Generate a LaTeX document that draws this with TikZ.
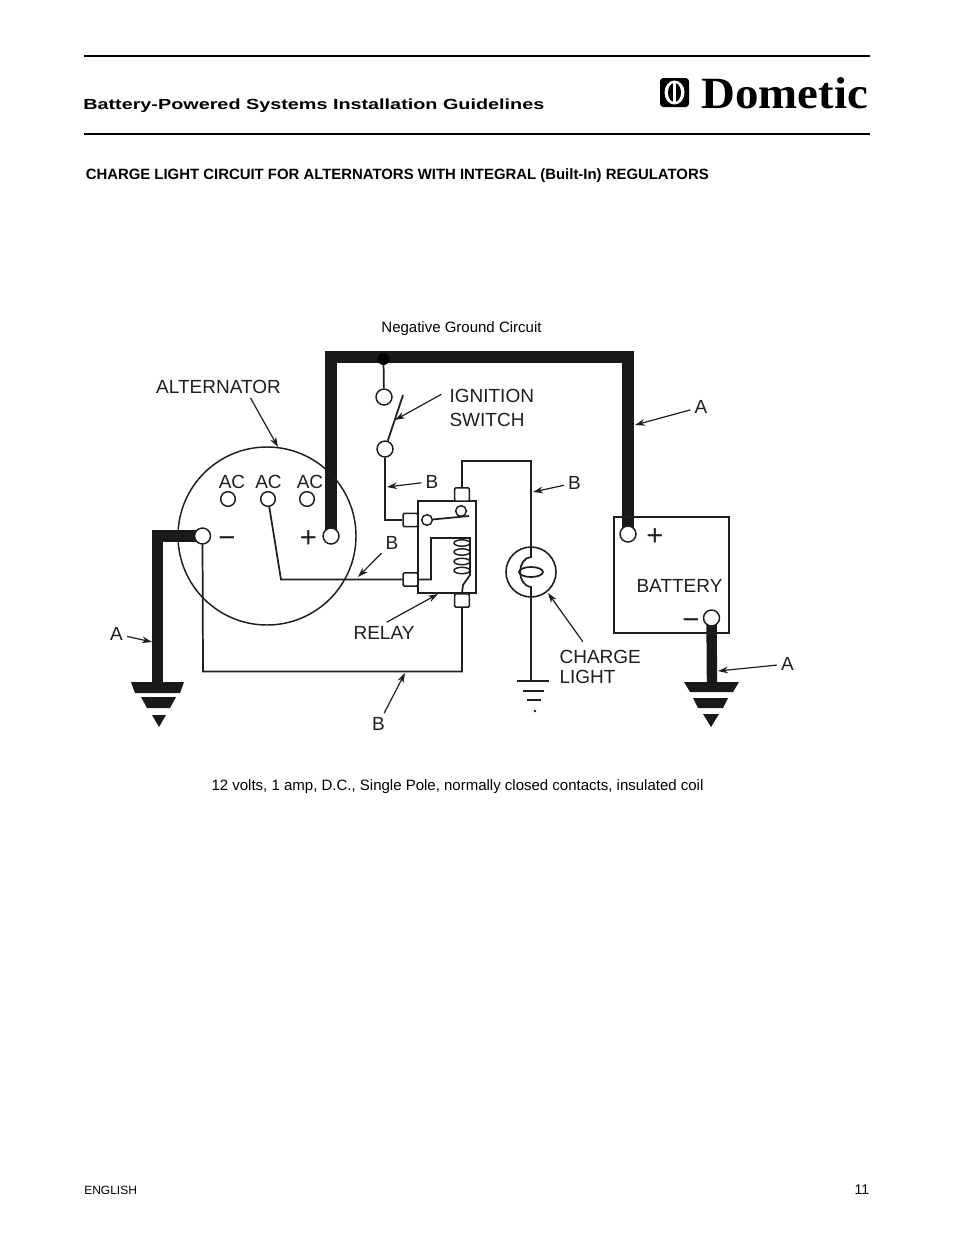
\documentclass[tikz,border=0pt]{standalone}
\usepackage{fontspec}
\usetikzlibrary{arrows.meta,backgrounds}
\setmainfont{Liberation Sans}
\newfontfamily\headfont[FakeStretch=1.35]{Liberation Sans}
\newfontfamily\logofont[FakeStretch=1.05]{Liberation Serif}
\definecolor{InkCol}{RGB}{30,30,30}
\tikzset{
    lbl/.style={inner sep=3pt,color=InkCol,font=\fontsize{14.25}{18}\selectfont},
    sign/.style={inner sep=0pt,color=InkCol,font=\fontsize{22}{22}\selectfont},
    pagetext/.style={inner sep=0pt,font=\fontsize{11.25}{13}\selectfont},
    wire/.style={draw=InkCol,line width=1.3pt},
    fatwire/.style={draw=black!90,line width=8.6pt},
    pointer/.style={draw=InkCol,line width=0.9pt,-{Stealth[length=7.5pt,width=5pt]}},
    terminal/.style={circle,draw=InkCol,fill=white,line width=1.1pt,inner sep=0pt,minimum size=12pt},
    smallterm/.style={circle,draw=InkCol,fill=white,line width=1.1pt,inner sep=0pt,minimum size=8pt},
    tab/.style={rectangle,rounded corners=1pt,draw=InkCol,fill=white,line width=1.2pt,inner sep=0pt,minimum width=11pt,minimum height=10pt}
}

\begin{document}
\begin{tikzpicture}[x=0.75pt,y=-0.75pt]
            \useasboundingbox (0,0) rectangle (954,1235);

            \node[anchor=west,inner sep=0pt,font=\headfont\bfseries\fontsize{11}{13}\selectfont] (pagetitle) at (83,106) {Battery-Powered Systems Installation Guidelines};
            \node[anchor=west,inner sep=0pt,font=\bfseries\fontsize{11.18}{13}\selectfont] (sectiontitle) at (85.5,175.5) {CHARGE LIGHT CIRCUIT FOR ALTERNATORS WITH INTEGRAL (Built-In) REGULATORS};
            \node[pagetext] (topcaption) at (461.5,329) {Negative Ground Circuit};
            \node[pagetext] (botcaption) at (457.5,787) {12 volts, 1 amp, D.C., Single Pole, normally closed contacts, insulated coil};
            \node[anchor=west,inner sep=0pt,font=\fontsize{9}{11}\selectfont] (footlang) at (84,1190.5) {ENGLISH};
            \node[anchor=east,inner sep=0pt,font=\fontsize{10.5}{12}\selectfont] (footpage) at (869.5,1189.5) {11};
            \node[anchor=west,inner sep=0pt,font=\logofont\bfseries\fontsize{33.5}{36}\selectfont] (logotext) at (701,93) {Dometic};

            \draw[line width=1.2pt] (84,56) -- (869.5,56);
            \draw[line width=1.2pt] (84,134) -- (869.5,134);

            \fill[rounded corners=2.5pt] (660,78) rectangle (689,107);
            \fill[white] (674.5,92.5) ellipse (10 and 12);
            \fill[black] (674.5,92.5) ellipse (6.5 and 9.5);
            \fill[white] (673,82) rectangle (676,103);

            \node[circle,draw=InkCol,line width=1.1pt,inner sep=0pt,minimum size=133.5pt] (alternator) at (267,536) {};
            \node[terminal,minimum size=11pt] (termacleft) at (228,499) {};
            \node[terminal,minimum size=11pt] (termacmid) at (268,499) {};
            \node[terminal,minimum size=11pt] (termacright) at (307,499) {};
            \node[terminal] (termminus) at (202.5,536) {};
            \node[terminal] (termplus) at (331,536) {};
            \node[terminal] (termswtop) at (384,397) {};
            \node[terminal] (termswbot) at (385,449) {};
            \node[terminal] (termbatplus) at (628,534) {};
            \node[terminal] (termbatminus) at (711.5,618) {};
            \node[circle,fill=black,inner sep=0pt,minimum size=9pt] (junction) at (383.5,359) {};

            \node[rectangle,draw=InkCol,line width=1.3pt,minimum width=43.5pt,minimum height=69pt,inner sep=0pt] (relay) at (447,547) {};
            \node[tab] (tabtop) at (462,494.5) {};
            \node[tab] (tabbot) at (462,600.5) {};
            \node[tab] (tabsw) at (410.5,520) {};
            \node[tab] (tabcoil) at (410.5,579.5) {};
            \node[smallterm] (contactleft) at (427,520) {};
            \node[smallterm] (contacttop) at (461,511) {};

            \node[circle,draw=InkCol,line width=1.2pt,inner sep=0pt,minimum size=37.5pt] (lamp) at (531,572) {};
            \node[rectangle,draw=InkCol,line width=1.2pt,inner sep=0pt] (battery) at (671.5,575) {\rule{0pt}{87pt}\rule{86pt}{0pt}};

            \coordinate (fatcorner) at (628,357);
            \coordinate (gndleft) at (157.5,683);
            \coordinate (gndright) at (712,683);
            \coordinate (gndthin) at (531,681);
            \coordinate (accorner) at (281,579.5);
            \coordinate (retcorner) at (203,671.5);
            \coordinate (lampcorner) at (531,461);
            \coordinate (bladetip) at (403,395);
            \coordinate (contactend) at (469,516);

            \begin{scope}[on background layer]
                \draw[fatwire] (termplus.center) |- (fatcorner) -- (termbatplus.center);
                \draw[fatwire] (termminus.center) -| (gndleft);
                \draw[fatwire,line width=7.8pt] (termbatminus.center) -- (gndright);
                \draw[wire] (junction.center) -- (termswtop);
                \draw[wire] (termswbot) |- (tabsw);
                \draw[wire] (termacmid) -- (accorner) -- (tabcoil);
                \draw[wire] (tabbot) |- (retcorner) -- (termminus);
                \draw[wire] (tabtop) |- (lampcorner) -- (lamp);
                \draw[wire] (lamp) -- (gndthin);
            \end{scope}

            \draw[wire] (termswbot) -- (bladetip);
            \draw[wire] (contactleft) -- (contactend);
            \draw[wire] (tabcoil.east) -- (431,579.5) -- (431,538) -- (470,538) -- (470,575) -- (463,585) -- (tabbot.north);
            \draw[wire] (lamp.north) -- (531,557) .. controls (517,558) and (516,585) .. (531,587) -- (lamp.south);
            \draw[wire] (531,572) ellipse (12 and 5);
            \draw[wire,line width=1.1pt] (462,543) ellipse (8 and 3.2);
            \draw[wire,line width=1.1pt] (462,552) ellipse (8 and 3.2);
            \draw[wire,line width=1.1pt] (462,561.5) ellipse (8 and 3.2);
            \draw[wire,line width=1.1pt] (462,570.5) ellipse (8 and 3.2);

            \fill[black!90] (131,682) -- (184,682) -- (180,693) -- (135,693) -- cycle;
            \fill[black!90] (141,697) -- (176,697) -- (170,708) -- (147,708) -- cycle;
            \fill[black!90] (152,715) -- (166,715) -- (159,727) -- cycle;
            \fill[black!90] (684,682) -- (739,682) -- (733,692) -- (690,692) -- cycle;
            \fill[black!90] (693,698) -- (728,698) -- (723,708) -- (698,708) -- cycle;
            \fill[black!90] (703,714) -- (719,714) -- (711,727) -- cycle;
            \draw[wire] (517,681) -- (549,681);
            \draw[wire] (523,691) -- (544,691);
            \draw[wire] (527,700) -- (541,700);
            \fill[InkCol] (535,711) circle (1.3);

            \node[lbl] (lblalternator) at (218.5,387) {ALTERNATOR};
            \node[lbl,anchor=west,align=left] (lblignition) at (445.3,407.5) {IGNITION\\SWITCH};
            \node[lbl] (lblacleft) at (232,482) {AC};
            \node[lbl] (lblacmid) at (268.5,481.5) {AC};
            \node[lbl] (lblacright) at (310,482) {AC};
            \node[sign] (signminus) at (227,542) {−};
            \node[sign] (signplus) at (308.5,539) {+};
            \node[sign] (signbatplus) at (655,537) {+};
            \node[sign] (signbatminus) at (691,624) {−};
            \node[lbl] (lblbattery) at (679.5,586) {BATTERY};
            \node[lbl] (lblrelay) at (384,633) {RELAY};
            \node[lbl,anchor=west,align=left] (lblcharge) at (555.3,667) {CHARGE\\[-2.6pt]LIGHT};
            \node[lbl] (lblagndleft) at (116.5,634) {A};
            \node[lbl] (lblafat) at (701,407) {A};
            \node[lbl] (lblagndright) at (787.5,664) {A};
            \node[lbl] (lblbsw) at (432,481.5) {B};
            \node[lbl] (lblblamp) at (574.5,483) {B};
            \node[lbl] (lblbac) at (392,542.5) {B};
            \node[lbl] (lblbret) at (378.5,724) {B};

            \coordinate (tipalternator) at (278,447);
            \coordinate (tipignition) at (395,420);
            \coordinate (tiprelay) at (438,594);
            \coordinate (tipcharge) at (548,593);
            \coordinate (tipagndleft) at (152,642);
            \coordinate (tipafat) at (635,425);
            \coordinate (tipagndright) at (718,671);
            \coordinate (tipbsw) at (387,487);
            \coordinate (tipblamp) at (533,492);
            \coordinate (tipbac) at (358,577);
            \coordinate (tipbret) at (405,673);

            \draw[pointer] ([xshift=24pt]lblalternator.south) -- (tipalternator);
            \draw[pointer] ([xshift=-3pt,yshift=2pt]lblignition.west |- termswtop) -- (tipignition);
            \draw[pointer] ([xshift=2pt]lblrelay.north) -- (tiprelay);
            \draw[pointer] ([xshift=-13pt,yshift=3pt]lblcharge.north) -- (tipcharge);
            \draw[pointer] (lblagndleft) -- (tipagndleft);
            \draw[pointer] (lblafat) -- (tipafat);
            \draw[pointer] (lblagndright) -- (tipagndright);
            \draw[pointer] (lblbsw) -- (tipbsw);
            \draw[pointer] (lblblamp) -- (tipblamp);
            \draw[pointer] (lblbac) -- (tipbac);
            \draw[pointer] (lblbret) -- (tipbret);
        \end{tikzpicture}
\end{document}
